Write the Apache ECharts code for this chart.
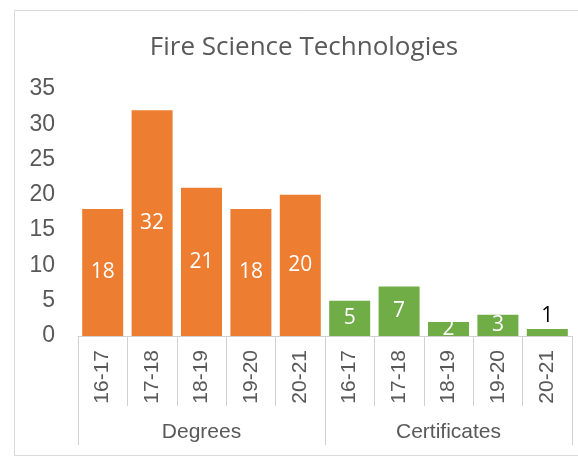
<!DOCTYPE html>
<html>
<head>
<meta charset="utf-8">
<script src="https://cdn.jsdelivr.net/npm/echarts@6/dist/echarts.min.js"></script>
<style>
  html, body { margin: 0; padding: 0; background: #fff; }
  #chart { width: 578px; height: 457px; }
</style>
</head>
<body>
<div id="chart"></div>
<script>
var titleText = 'Fire Science Technologies';
var years = ['16-17', '17-18', '18-19', '19-20', '20-21'];
var groups = ['Degrees', 'Certificates'];
var degreeValues = [18, 32, 21, 18, 20];
var certValues = [5, 7, 2, 3, 1];
var yTicks = [0, 5, 10, 15, 20, 25, 30, 35];

var groupColors = ['#ED7D31', '#70AD47'];
var labelFont = '"Liberation Sans", Arial, sans-serif';

var chartFire = function () {
    var myChart = echarts.init(document.getElementById('chart'), null, { renderer: 'canvas' });

    var cats = [];
    var data = [];
    var groupValues = [degreeValues, certValues];
    for (var g = 0; g < groupValues.length; g++) {
        for (var i = 0; i < groupValues[g].length; i++) {
            var v = groupValues[g][i];
            cats.push(years[i]);
            // tiny bars: label goes above the bar, like Excel does
            var outside = v < 2;
            data.push({
                value: v,
                itemStyle: { color: groupColors[g] },
                label: {
                    position: outside ? 'top' : 'inside',
                    color: outside ? '#000000' : '#ffffff',
                    distance: 2
                }
            });
        }
    }

    var option = {
        animation: false,
        backgroundColor: '#ffffff',
        title: {
            text: titleText,
            left: 299,
            top: 30,
            textAlign: 'center',
            textStyle: {
                fontFamily: '"Open Sans", "Noto Sans", sans-serif',
                fontWeight: 'normal',
                fontSize: 26,
                color: '#595959'
            }
        },
        graphic: [{
            type: 'rect',
            shape: { x: 14.5, y: 10.5, width: 600, height: 445 },
            style: { fill: 'none', stroke: '#d9d9d9', lineWidth: 1 },
            silent: true
        }],
        grid: { left: 78, right: 6, top: 89, bottom: 121 },
        xAxis: [{
            type: 'category',
            data: cats,
            axisLine: { show: true, lineStyle: { color: '#d0d0d0' } },
            axisTick: { show: true, interval: 0, length: 70, lineStyle: { color: '#d0d0d0' } },
            axisLabel: {
                interval: 0,
                rotate: 90,
                margin: 14,
                fontFamily: labelFont,
                fontSize: 21,
                color: '#595959'
            }
        }, {
            type: 'category',
            data: groups,
            position: 'bottom',
            axisLine: { show: false },
            axisTick: { show: true, interval: 0, length: 109, lineStyle: { color: '#d0d0d0' } },
            axisLabel: {
                margin: 86,
                fontFamily: labelFont,
                fontSize: 21,
                color: '#595959'
            }
        }],
        yAxis: {
            type: 'value',
            min: yTicks[0],
            max: yTicks[yTicks.length - 1],
            interval: yTicks[1] - yTicks[0],
            splitLine: { show: false },
            axisLine: { show: false },
            axisTick: { show: false },
            axisLabel: {
                margin: 23,
                fontFamily: labelFont,
                fontSize: 23,
                color: '#595959'
            }
        },
        series: [{
            type: 'bar',
            xAxisIndex: 0,
            data: data,
            barCategoryGap: '17%',
            label: {
                show: true,
                fontFamily: '"Open Sans", "Noto Sans", sans-serif',
                fontSize: 21
            }
        }]
    };
    myChart.setOption(option);
};

chartFire();
</script>
</body>
</html>
